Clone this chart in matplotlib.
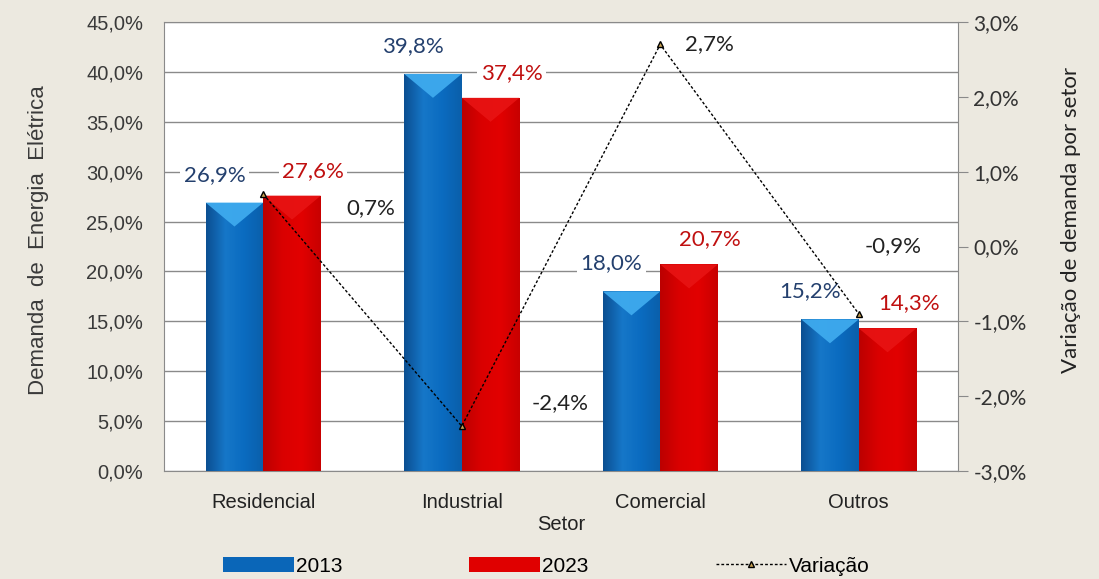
import numpy as np
import matplotlib
matplotlib.use("Agg")
import matplotlib.pyplot as plt
from matplotlib.patches import Polygon
from matplotlib.colors import LinearSegmentedColormap
from matplotlib.lines import Line2D
from matplotlib.patches import Patch

# ---- data ----
categories = ["Residencial", "Industrial", "Comercial", "Outros"]
demand_2013 = [26.9, 39.8, 18.0, 15.2]
demand_2023 = [27.6, 37.4, 20.7, 14.3]
variation = [0.7, -2.4, 2.7, -0.9]
left_ticks = [0, 5, 10, 15, 20, 25, 30, 35, 40, 45]
right_ticks = [-3, -2, -1, 0, 1, 2, 3]

# ---- style ----
BG = "#ECE9E0"
W, H = 1099, 579
DPI = 100
var_label_offsets = [(108, -14), (98, 23), (49, 0), (34, 68)]  # pixels


def pct(v):
    return f"{v:.1f}%".replace(".", ",")


fig = plt.figure(figsize=(W / DPI, H / DPI), dpi=DPI, facecolor=BG)
ax = fig.add_axes([164 / W, 1 - 471 / H, (958 - 164) / W, (471 - 22) / H])
ax.set_facecolor("white")
x = np.arange(len(categories))
bw = 0.29

bars1 = ax.bar(x - bw / 2, demand_2013, bw, color="#0A66B8", zorder=3, linewidth=0)
bars2 = ax.bar(x + bw / 2, demand_2023, bw, color="#D40000", zorder=3, linewidth=0)

cmap_b = LinearSegmentedColormap.from_list("b", ["#0B4F92", "#1677C8", "#0A6BC0", "#0B5FAA"])
cmap_r = LinearSegmentedColormap.from_list("r", ["#BC0000", "#DA0000", "#E20000", "#C80000"])
grad = np.linspace(0, 1, 64).reshape(1, -1)
for bars, cmap, top_col, a in ((bars1, cmap_b, "#3EAAEE", 0.95), (bars2, cmap_r, "#E81414", 0.9)):
    for b in bars:
        bx, by, bwid, bh = b.get_x(), b.get_y(), b.get_width(), b.get_height()
        im = ax.imshow(grad, cmap=cmap, aspect="auto", extent=[bx, bx + bwid, by, by + bh],
                       zorder=3.1, interpolation="bicubic")
        im.set_clip_path(b)
        d = 2.4  # bevel depth in data units
        poly = Polygon([(bx, bh), (bx + bwid, bh), (bx + bwid / 2, bh - d)],
                       closed=True, facecolor=top_col, edgecolor="none", zorder=3.2, alpha=a)
        ax.add_patch(poly)

ax.set_xlim(-0.5, len(categories) - 0.5)
ax.set_ylim(0, 45)
ax.set_yticks(left_ticks)
ax.set_yticklabels([pct(v) for v in left_ticks], fontsize=14.5, family="Liberation Sans",
                   color="#3A3A3A")
ax.yaxis.grid(True, color="#8A8A8A", linewidth=1, zorder=0)
ax.set_axisbelow(True)
ax.tick_params(axis="y", length=0, pad=15)
ax.set_xticks(x)
ax.set_xticklabels(categories, fontsize=14.5, family="Liberation Sans", color="#222222")
ax.tick_params(axis="x", length=0, pad=16)
for s in ax.spines.values():
    s.set_color("#8A8A8A")
ax.spines["right"].set_visible(False)
ax.set_xlabel("Setor", fontsize=14.5, family="Liberation Sans", color="#222222", labelpad=2)
ax.set_ylabel("Demanda  de  Energia  Elétrica", fontsize=16, family="Liberation Sans",
              color="#3A3A3A")
ax.yaxis.set_label_coords(-0.145, 0.515)

lab_kw = dict(textcoords="offset pixels", ha="center", va="center", fontsize=16,
              family="Lato", zorder=6, bbox=dict(boxstyle="square,pad=0.15", fc="white", ec="none"))
for b, v in zip(bars1, demand_2013):
    ax.annotate(pct(v), (b.get_x() + b.get_width() / 2, v), xytext=(-20, 28),
                color="#24406E", **lab_kw)
for b, v in zip(bars2, demand_2023):
    ax.annotate(pct(v), (b.get_x() + b.get_width() / 2, v), xytext=(21, 25),
                color="#C01010", **lab_kw)

ax2 = ax.twinx()
ax2.set_ylim(-3, 3)
ax2.set_yticks(right_ticks)
ax2.set_yticklabels([pct(v) for v in right_ticks], fontsize=15, family="Lato", color="#333333")
ax2.tick_params(axis="y", length=7, color="#8A8A8A", pad=4)
for s in ax2.spines.values():
    s.set_visible(False)
ax2.spines["right"].set_visible(True)
ax2.spines["right"].set_color("#8A8A8A")
ax2.set_ylabel("Variação de demanda por setor", fontsize=16, family="Lato", color="#222222")
ax2.yaxis.set_label_coords(1.13, 0.56)
ax2.plot(x, variation, color="black", linestyle=(0, (2, 1.5)), linewidth=1, marker="^",
         markersize=5, markerfacecolor="#C8A050", markeredgecolor="black", zorder=5)
for xi, v, off in zip(x, variation, var_label_offsets):
    ax2.annotate(pct(v), (xi, v), xytext=off, color="#222222", **lab_kw)

handles = [Patch(facecolor="#0A66B8", edgecolor="none"),
           Patch(facecolor="#E00000", edgecolor="none"),
           Line2D([0], [0], color="black", linestyle=(0, (2, 1.5)), linewidth=1, marker="^",
                  markersize=5, markerfacecolor="#C8A050")]
leg = fig.legend(handles, ["2013", "2023", "Variação"], loc="center",
                 bbox_to_anchor=(546 / W, 1 - 566 / H), ncol=3, frameon=False,
                 prop=dict(family="Liberation Sans", size=15), handlelength=3.4,
                 handleheight=0.75, handletextpad=0.1, columnspacing=6.1)

fig.savefig("out.png", dpi=DPI, facecolor=BG)
